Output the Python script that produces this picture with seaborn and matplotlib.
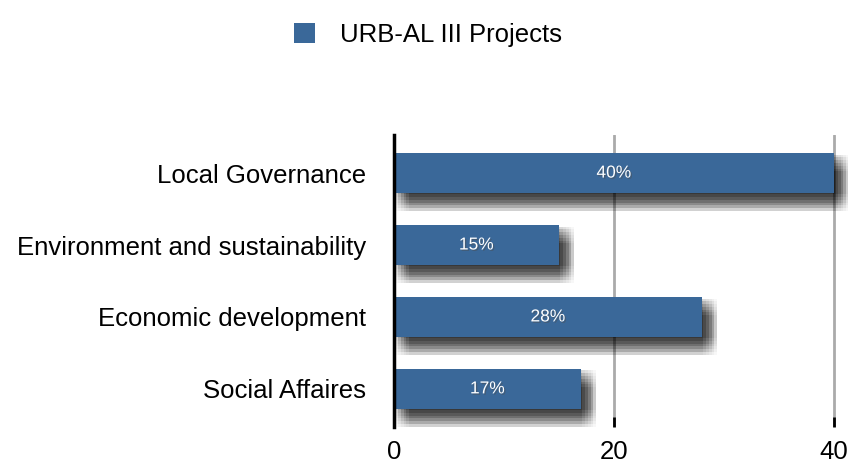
import pandas as pd
import seaborn as sns
import matplotlib.pyplot as plt
import matplotlib.patheffects as pe

categories = ['Local Governance', 'Environment and sustainability', 'Economic development', 'Social Affaires']
values = [40, 15, 28, 17]
pct_labels = ['40%', '15%', '28%', '17%']
series = 'URB-AL III Projects'

df = pd.DataFrame({'Theme': categories, 'Projects': values, 'Series': series})

sns.set_style('white')
plt.rcParams['font.family'] = ['Liberation Sans', 'DejaVu Sans']
plt.rcParams['text.color'] = 'black'
plt.rcParams['xtick.color'] = 'black'
plt.rcParams['ytick.color'] = 'black'

fig = plt.figure(figsize=(8.48, 4.59), dpi=100)
ax = fig.add_axes([0.4646, 0.0697, 0.5354, 0.6363])

sns.barplot(data=df, y='Theme', x='Projects', hue='Series', orient='h',
            palette={series: '#3a6899'}, saturation=1, width=0.55,
            linewidth=0, ax=ax, zorder=3)

# legend first, so its handle gets no shadow
ax.get_legend().remove()
handles, labels = ax.get_legend_handles_labels()
fig.legend(handles, labels, loc='upper center', bbox_to_anchor=(0.505, 1.0), frameon=False,
           fontsize=18.5, handlelength=0.8, handleheight=0.8, handletextpad=1.0)

# soft (blurred-looking) drop shadow under each bar
shadow = []
for dx in (1, 3, 5, 7, 9, 11):
    for dy in (-1, -3, -5, -7, -9, -11, -13):
        shadow.append(pe.SimplePatchShadow(offset=(dx, dy), shadow_rgbFace='black', alpha=0.03))
for bar in ax.patches:
    bar.set_path_effects(shadow + [pe.Normal()])

for bar, txt in zip(ax.patches, pct_labels):
    ax.text(bar.get_x() + bar.get_width() / 2, bar.get_y() + bar.get_height() / 2, txt,
            ha='center', va='center', color='white', fontsize=12.5, zorder=5,
            path_effects=[pe.withSimplePatchShadow(offset=(1, -1), alpha=0.45)])

ax.set_xlim(0, 41.3)
ax.set_ylim(3.53, -0.53)
ax.set_xticks([0, 20, 40])
ax.xaxis.grid(True, color='#aaaaaa', linewidth=2, zorder=0)
ax.set_axisbelow(True)
for s in ['top', 'right', 'bottom']:
    ax.spines[s].set_visible(False)
ax.spines['left'].set_color('black')
ax.spines['left'].set_linewidth(2.5)
ax.spines['left'].set_zorder(4)
ax.tick_params(axis='x', direction='in', length=7, width=2, color='black',
               labelsize=18.5, pad=9, bottom=True)
ax.tick_params(axis='y', length=0, labelsize=18.5, pad=20)
ax.set_xlabel('')
ax.set_ylabel('')

fig.savefig('out.png', dpi=100)
